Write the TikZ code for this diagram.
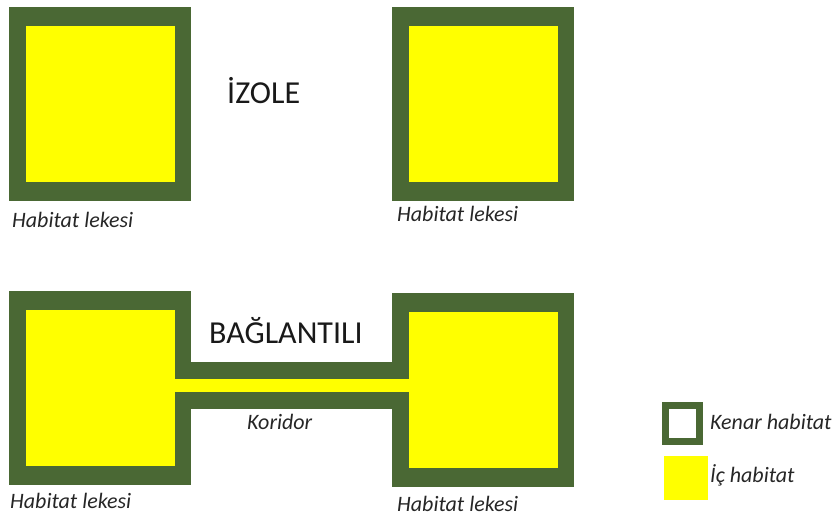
\documentclass[tikz,border=0pt]{standalone}
\usepackage{fontspec}
\setmainfont{Carlito}
\definecolor{kenar}{HTML}{4A6834}
\definecolor{ic}{HTML}{FFFF00}
\begin{document}
\begin{tikzpicture}[x=1pt,y=-1pt,
  etiket/.style={anchor=west,inner sep=0pt,font=\fontsize{22}{26}\selectfont\itshape,text=black!85},
  baslik/.style={anchor=west,inner sep=0pt,font=\fontsize{32}{38}\selectfont,text=black!90}]
\useasboundingbox (0,0) rectangle (835,518);
% habitat lekeleri
\foreach \x/\y in {9/7,392/7,9/291,392/293}{\fill[kenar] (\x,\y) rectangle ++(182,194); \fill[ic] (\x+17,\y+19) rectangle ++(149,156);}
% koridor
\fill[kenar] (191,362) rectangle (392,409);
\fill[ic] (175,379) rectangle (409,392);
\node[baslik] (izole) at (227,91) {İZOLE};
\node[baslik] (bagli) at (209,331) {BAĞLANTILI};
\node[etiket] (leke1) at (12,220) {Habitat lekesi};
\node[etiket] (leke2) at (397,214) {Habitat lekesi};
\node[etiket] (leke3) at (10,501) {Habitat lekesi};
\node[etiket] (leke4) at (397,504) {Habitat lekesi};
\node[etiket] (koridor) at (247,422) {Koridor};
% lejant
\draw[kenar,line width=7pt,fill=white] (665.5,405.5) rectangle (699.5,441.5);
\fill[ic] (664,456) rectangle (708,500);
\node[etiket] (kenartxt) at (710,422) {Kenar habitat};
\node[etiket] (ictxt) at (710,475) {İç habitat};
\end{tikzpicture}
\end{document}
